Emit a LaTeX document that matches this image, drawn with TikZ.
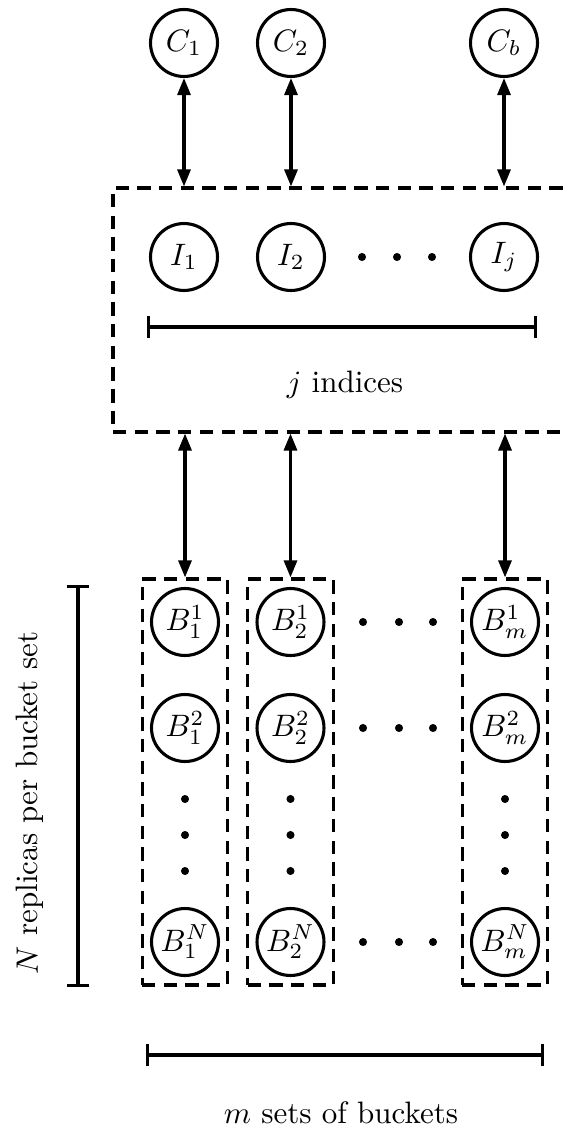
\documentclass[tikz,border=0pt]{standalone}
\usetikzlibrary{arrows.meta}
\begin{document}
\begin{tikzpicture}[x=0.3226pt,y=-0.3226pt,
  unit/.style={circle,draw,line width=1pt,minimum size=21.6pt,inner sep=0pt},
  dot/.style={circle,fill,inner sep=0pt,minimum size=2.6pt},
  groupbox/.style={draw,line width=1pt,dash pattern=on 4.3pt off 2.7pt,inner sep=0pt},
  link/.style={line width=1pt,{Triangle[length=5.5pt,width=4.2pt]}-{Triangle[length=5.5pt,width=4.2pt]}},
  span/.style={line width=1pt,{Bar[width=7.4pt]}-{Bar[width=7.4pt]}}]
\useasboundingbox (0,0) rectangle (569,1133);

% clients
\node[unit] (C1) at (184,43) {$C_1$};
\node[unit] (C2) at (291,43) {$C_2$};
\node[unit] (Cb) at (504,43) {$C_b$};

% index group
\node[groupbox,minimum width=148.7pt,minimum height=78.7pt] (ibox) at (343.5,310) {};
\node[unit] (I1) at (184,257) {$I_1$};
\node[unit] (I2) at (291,257) {$I_2$};
\node[unit] (Ij) at (504,257) {$I_j$};
\node[dot] (id1) at (362,257) {};
\node[dot] (id2) at (397,257) {};
\node[dot] (id3) at (432,257) {};
\coordinate (jl) at (147,327);
\coordinate (jr) at (537,327);
\draw[span] (jl) -- (jr);
\node[anchor=base] (jlabel) at (345,393) {$j$ indices};

% bucket sets
\node[groupbox,minimum width=27.7pt,minimum height=131pt] (col1) at (185,782) {};
\node[groupbox,minimum width=27.7pt,minimum height=131pt] (col2) at (290.5,782) {};
\node[groupbox,minimum width=27.7pt,minimum height=131pt] (colm) at (505,782) {};

\node[unit] (B11) at (185,622) {$B_1^1$};
\node[unit] (B21) at (185,728) {$B_1^2$};
\node[unit] (BN1) at (185,942) {$B_1^N$};
\node[unit] (B12) at (290.5,622) {$B_2^1$};
\node[unit] (B22) at (290.5,728) {$B_2^2$};
\node[unit] (BN2) at (290.5,942) {$B_2^N$};
\node[unit] (B1m) at (505,622) {$B_m^1$};
\node[unit] (B2m) at (505,728) {$B_m^2$};
\node[unit] (BNm) at (505,942) {$B_m^N$};

% vertical ellipses
\foreach \c/\x in {1/185,2/290.5,m/505}{
  \node[dot] (vd\c a) at (\x,799) {};
  \node[dot] (vd\c b) at (\x,835) {};
  \node[dot] (vd\c c) at (\x,871) {};
}
% horizontal ellipses
\foreach \r/\y in {1/622,2/728,N/942}{
  \node[dot] (hd\r a) at (363,\y) {};
  \node[dot] (hd\r b) at (399,\y) {};
  \node[dot] (hd\r c) at (433,\y) {};
}

% links
\draw[link] (C1.south) -- (C1.south |- ibox.north);
\draw[link] (C2.south) -- (C2.south |- ibox.north);
\draw[link] (Cb.south) -- (Cb.south |- ibox.north);
\draw[link] (col1.north |- ibox.south) -- (col1.north);
\draw[link] (col2.north |- ibox.south) -- (col2.north);
\draw[link] (colm.north |- ibox.south) -- (colm.north);

% dimension marks
\coordinate (nt) at (78,585);
\coordinate (nb) at (78,987);
\draw[span] (nt) -- (nb);
\node[rotate=90] (nlabel) at (30,803) {$N$ replicas per bucket set};

\coordinate (ml) at (146,1055);
\coordinate (mr) at (544,1055);
\draw[span] (ml) -- (mr);
\node[anchor=base] (mlabel) at (341,1123) {$m$ sets of buckets};
\end{tikzpicture}
\end{document}
